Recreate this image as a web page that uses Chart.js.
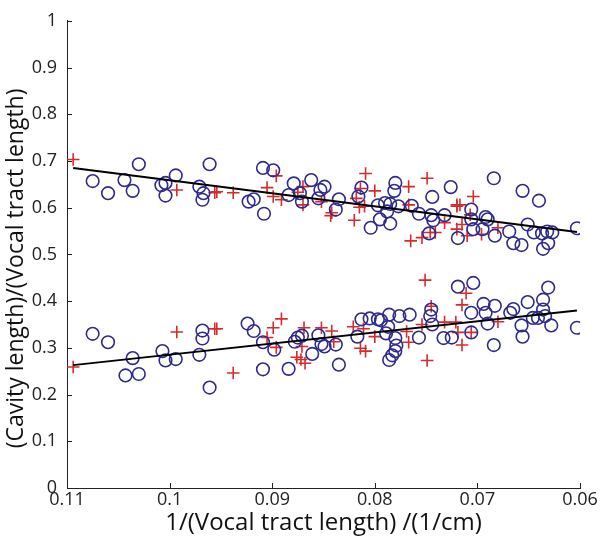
<!DOCTYPE html>
<html>
<head>
<meta charset="utf-8">
<script src="https://cdn.jsdelivr.net/npm/chart.js@4"></script>
<style>
  body { margin: 0; background: #fff; }
</style>
</head>
<body>
<canvas id="cavity-chart" width="601" height="541"></canvas>
<script>
// upper group (circles / crosses)
const upperCircX = [0.1075,0.1060,0.1044,0.1036,0.1030,0.1008,0.1004,0.1004,0.0994,0.0971,
  0.0967,0.0968,0.0961,0.0909,0.0899,0.0923,0.0918,0.0908,0.0879,0.0884,
  0.0873,0.0871,0.0862,0.0853,0.0849,0.0855,0.0835,0.0838,0.0816,0.0813,
  0.0780,0.0781,0.0797,0.0790,0.0785,0.0777,0.0788,0.0795,0.0785,0.0804,
  0.0764,0.0744,0.0726,0.0757,0.0745,0.0743,0.0732,0.0747,0.0706,0.0706,
  0.0704,0.0719,0.0692,0.0690,0.0695,0.0684,0.0683,0.0669,0.0665,0.0657,
  0.0656,0.0640,0.0651,0.0645,0.0637,0.0632,0.0627,0.0631,0.0636,0.0603];
const upperCircY = [0.657,0.631,0.659,0.636,0.693,0.648,0.653,0.626,0.669,0.645,
  0.631,0.617,0.693,0.685,0.680,0.613,0.618,0.587,0.652,0.627,
  0.631,0.613,0.659,0.638,0.645,0.620,0.618,0.596,0.624,0.643,
  0.653,0.636,0.605,0.610,0.608,0.603,0.592,0.575,0.566,0.557,
  0.604,0.623,0.644,0.587,0.584,0.573,0.584,0.545,0.596,0.575,
  0.554,0.535,0.580,0.575,0.554,0.663,0.540,0.549,0.524,0.520,
  0.636,0.615,0.564,0.547,0.545,0.549,0.547,0.524,0.512,0.556];
const upperCrossX = [0.1094,0.0993,0.0956,0.0954,0.0938,0.0896,0.0905,0.0899,0.0891,0.0870,
  0.0875,0.0870,0.0852,0.0842,0.0843,0.0820,0.0809,0.0800,0.0814,0.0818,
  0.0815,0.0810,0.0767,0.0767,0.0765,0.0749,0.0704,0.0720,0.0717,0.0720,
  0.0707,0.0732,0.0715,0.0720,0.0710,0.0696,0.0680,0.0754,0.0746,0.0741];
const upperCrossY = [0.703,0.638,0.632,0.634,0.632,0.668,0.643,0.624,0.617,0.645,
  0.633,0.606,0.613,0.589,0.583,0.573,0.673,0.636,0.641,0.620,
  0.601,0.603,0.645,0.606,0.529,0.663,0.624,0.606,0.606,0.603,
  0.585,0.568,0.564,0.554,0.540,0.543,0.557,0.536,0.547,0.547];

// lower group
const lowerCircX = [0.1075,0.1060,0.1036,0.1043,0.1030,0.1007,0.1004,0.0994,0.0971,0.0968,0.0968,0.0961,
  0.0924,0.0918,0.0909,0.0898,0.0909,0.0884,0.0878,0.0875,0.0871,0.0861,0.0855,0.0852,0.0849,
  0.0838,0.0835,0.0817,0.0813,0.0805,0.0797,0.0794,0.0786,0.0776,0.0787,0.0789,0.0780,0.0779,
  0.0780,0.0783,0.0786,0.0766,
  0.0746,0.0745,0.0744,0.0757,0.0733,0.0725,0.0719,0.0704,0.0706,0.0706,0.0694,0.0692,0.0683,
  0.0690,0.0684,0.0668,0.0665,0.0651,0.0657,0.0656,0.0646,0.0641,0.0636,0.0636,0.0631,0.0634,
  0.0628,0.0603];
const lowerCircY = [0.330,0.312,0.278,0.241,0.244,0.293,0.273,0.276,0.285,0.337,0.320,0.215,
  0.352,0.336,0.312,0.296,0.254,0.255,0.313,0.322,0.326,0.287,0.327,0.308,0.303,
  0.307,0.264,0.324,0.361,0.363,0.361,0.359,0.371,0.368,0.345,0.331,0.321,0.305,
  0.293,0.284,0.274,0.371,
  0.368,0.382,0.350,0.322,0.321,0.322,0.431,0.439,0.375,0.333,0.394,0.375,0.390,
  0.352,0.306,0.375,0.383,0.398,0.348,0.324,0.364,0.364,0.382,0.403,0.429,0.368,
  0.348,0.343];
const lowerCrossX = [0.1094,0.0993,0.0956,0.0954,0.0938,
  0.0891,0.0899,0.0905,0.0896,0.0869,0.0871,0.0876,0.0872,0.0868,0.0852,0.0842,0.0840,
  0.0821,0.0811,0.0814,0.0809,0.0800,0.0769,0.0767,
  0.0751,0.0745,0.0754,0.0749,0.0711,0.0715,0.0732,0.0721,0.0719,0.0715,0.0706,0.0680];
const lowerCrossY = [0.259,0.334,0.341,0.341,0.246,
  0.362,0.343,0.322,0.301,0.343,0.303,0.280,0.275,0.267,0.343,0.336,0.313,
  0.345,0.341,0.299,0.293,0.324,0.335,0.312,
  0.445,0.389,0.350,0.273,0.417,0.392,0.355,0.355,0.333,0.306,0.333,0.356];

// regression lines (end points)
const fitX = [0.1094, 0.0603];
const upperFitY = [0.685, 0.548];
const lowerFitY = [0.263, 0.380];

const xTicks = [0.11, 0.1, 0.09, 0.08, 0.07, 0.06];
const yTitle = '(Cavity length)/(Vocal tract length)';

function pts(xs, ys) {
  return xs.map((x, i) => ({x: x, y: ys[i]}));
}

// matlab style tick marks, pointing into the plot
const inwardTicks = {
  id: 'inwardTicks',
  afterDatasetsDraw(chart) {
    const {ctx, chartArea, scales} = chart;
    ctx.save();
    ctx.strokeStyle = '#222';
    ctx.lineWidth = 1;
    ctx.beginPath();
    scales.x.ticks.forEach(t => {
      const px = Math.round(scales.x.getPixelForValue(t.value)) + 0.5;
      ctx.moveTo(px, chartArea.bottom);
      ctx.lineTo(px, chartArea.bottom - 5);
    });
    scales.y.ticks.forEach(t => {
      const py = Math.round(scales.y.getPixelForValue(t.value)) + 0.5;
      ctx.moveTo(chartArea.left, py);
      ctx.lineTo(chartArea.left + 5, py);
    });
    ctx.stroke();
    ctx.restore();
  }
};

// y label sits a bit below the middle of the axis, like the matlab original
const yLabel = {
  id: 'yLabel',
  afterDraw(chart) {
    const ctx = chart.ctx;
    const mid = (chart.chartArea.top + chart.chartArea.bottom) / 2 + 14;
    ctx.save();
    ctx.translate(16, mid);
    ctx.rotate(-Math.PI / 2);
    ctx.fillStyle = '#111';
    ctx.font = '23px "Open Sans"';
    ctx.textAlign = 'center';
    ctx.textBaseline = 'middle';
    ctx.fillText(yTitle, 0, 0);
    ctx.restore();
  }
};

const circleStyle = {
  pointStyle: 'circle', pointRadius: 6.3, pointHoverRadius: 6.3,
  pointBorderColor: '#2e2a8e', pointBackgroundColor: 'rgba(0,0,0,0)', pointBorderWidth: 1.6
};
const crossStyle = {
  pointStyle: 'cross', pointRadius: 6.3, pointHoverRadius: 6.3,
  pointBorderColor: '#d62b2b', pointBorderWidth: 1.6
};
const fitStyle = {
  showLine: true, borderColor: '#000', borderWidth: 2, pointRadius: 0, fill: false
};

new Chart(document.getElementById('cavity-chart'), {
  type: 'scatter',
  data: {
    datasets: [
      Object.assign({label: 'upper fit', data: pts(fitX, upperFitY)}, fitStyle),
      Object.assign({label: 'lower fit', data: pts(fitX, lowerFitY)}, fitStyle),
      Object.assign({label: 'upper circles', data: pts(upperCircX, upperCircY)}, circleStyle),
      Object.assign({label: 'lower circles', data: pts(lowerCircX, lowerCircY)}, circleStyle),
      Object.assign({label: 'upper crosses', data: pts(upperCrossX, upperCrossY)}, crossStyle),
      Object.assign({label: 'lower crosses', data: pts(lowerCrossX, lowerCrossY)}, crossStyle)
    ]
  },
  options: {
    responsive: false,
    animation: false,
    layout: { padding: { top: 13, right: 21, bottom: 0, left: 0 } },
    plugins: {
      legend: { display: false },
      tooltip: { enabled: false }
    },
    scales: {
      x: {
        type: 'linear',
        reverse: true,
        min: 0.06,
        max: 0.11,
        afterBuildTicks: s => { s.ticks = xTicks.map(v => ({value: v})); },
        afterFit: s => { s.height = 53; },
        grid: { display: false, drawTicks: false },
        border: { display: true, color: '#222', width: 1 },
        ticks: {
          padding: 1,
          maxRotation: 0,
          autoSkip: false,
          color: '#222',
          font: { family: 'Open Sans', size: 18 },
          callback: v => String(parseFloat(v.toFixed(2)))
        },
        title: {
          display: true,
          text: '1/(Vocal tract length) /(1/cm)',
          color: '#111',
          font: { family: 'Open Sans', size: 24 },
          padding: { top: 0, bottom: 3 }
        }
      },
      y: {
        min: 0,
        max: 1,
        ticks: {
          stepSize: 0.1,
          padding: 10,
          color: '#222',
          font: { family: 'Open Sans', size: 18 },
          callback: v => String(parseFloat(v.toFixed(1)))
        },
        afterFit: s => { s.width = 67; },
        grid: { display: false, drawTicks: false },
        border: { display: true, color: '#222', width: 1 },
        title: { display: false }
      }
    }
  },
  plugins: [inwardTicks, yLabel]
});
</script>
</body>
</html>
